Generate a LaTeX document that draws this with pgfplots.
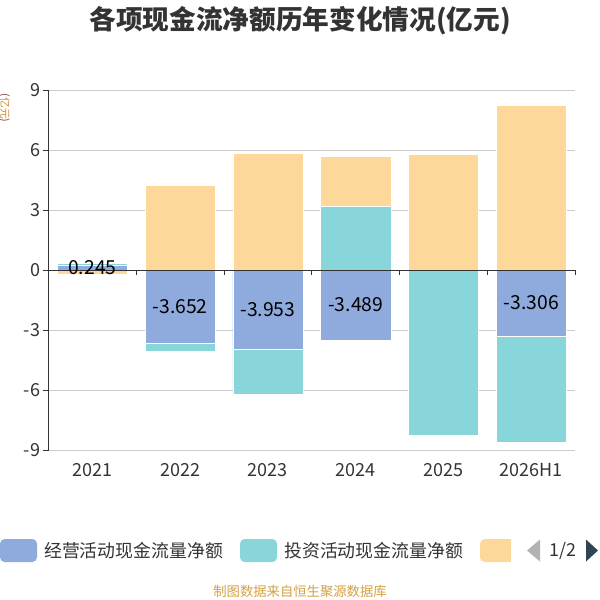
\documentclass[border=0pt]{standalone}
\usepackage{fontspec}
\setmainfont{Noto Sans CJK SC}
\usepackage{pgfplots}
\pgfplotsset{compat=1.18}
\definecolor{cblue}{HTML}{8FAADC}
\definecolor{ccyan}{HTML}{88D6DA}
\definecolor{corange}{HTML}{FED89A}
\definecolor{txt}{HTML}{333333}
\definecolor{gridc}{HTML}{CCCCCC}
\definecolor{foot}{HTML}{D4A044}
\definecolor{ylabd}{HTML}{8B3A3A}
\definecolor{ylabo}{HTML}{D08A2A}
\definecolor{navy}{HTML}{2F4554}
\begin{document}
\begin{tikzpicture}[x=0.75pt,y=-0.75pt]
\path[use as bounding box] (0,0) rectangle (600,600);
\begin{axis}[
  at={(36.375pt,-337.5pt)}, anchor=south west, scale only axis,
  width=395pt, height=270pt,
  xmin=-0.5, xmax=5.5, ymin=-9, ymax=9,
  axis lines=left, axis line style={-},
  x axis line style={draw=none},
  y axis line style={draw=txt, line width=0.75pt},
  ytick={-9,-6,-3,0,3,6,9},
  xtick={0,1,2,3,4,5},
  xticklabels={2021,2022,2023,2024,2025,2026H1},
  xtick style={draw=none},
  ytick style={draw=txt, line width=0.75pt},
  tick align=outside, major tick length=4.5pt,
  ymajorgrids, grid style={gridc, line width=0.75pt},
  /pgf/number format/assume math mode=true,
  yticklabel style={font=\fontsize{13.5}{14}\selectfont, text=txt, inner sep=1.5pt},
  xticklabel style={font=\fontsize{13.5}{14}\selectfont, text=txt, yshift=-2pt},
  clip=false,
]
\addplot[ybar, bar width=0.8, bar shift=0pt, fill=corange, draw=white, line width=0.3pt]
  coordinates {(1,4.25) (2,5.85) (3,5.7) (4,5.8) (5,8.25)};
\addplot[ybar, bar width=0.8, bar shift=0pt, fill=ccyan, draw=white, line width=0.3pt]
  coordinates {(0,0.345) (1,-4.05) (2,-6.22) (3,3.2) (4,-8.25) (5,-8.6)};
\addplot[ybar, bar width=0.8, bar shift=0pt, fill=cblue, draw=white, line width=0.3pt]
  coordinates {(0,0.245) (1,-3.652) (2,-3.953) (3,-3.489) (4,0) (5,-3.306)};
\addplot[draw=none, mark=none, nodes near coords, point meta=explicit symbolic,
  nodes near coords align=center,
  every node near coord/.append style={anchor=center, font=\fontsize{14.5}{15}\selectfont, text=black}]
  coordinates {(0,0.1225)[0.245] (1,-1.826)[-3.652] (2,-1.9765)[-3.953] (3,-1.7445)[-3.489] (5,-1.653)[-3.306]};
\addplot[ybar, bar width=0.8, bar shift=0pt, fill=corange, draw=white, line width=0.3pt]
  coordinates {(0,-0.2)};
\draw[txt, line width=0.75pt] (axis cs:-0.5,0) -- (axis cs:5.5,0);
\pgfplotsinvokeforeach{-0.5,0.5,1.5,2.5,3.5,4.5,5.5}{
  \draw[txt, line width=0.75pt] (axis cs:#1,0) -- ++(0pt,-3.75pt);
}
\end{axis}
% title
\node[font=\fontsize{20}{22}\selectfont\bfseries, text=txt] at (300,21) {各项现金流净额历年变化情况(亿元)};
% y label
\node[rotate=-90, font=\fontsize{8}{9}\selectfont, inner sep=0pt] at (4.5,108)
  {\textcolor{ylabd}{(}\textcolor{ylabo}{亿元}\textcolor{ylabd}{)}};
% legend
\fill[cblue, rounded corners=3.5] (0,539) rectangle (37,562);
\node[anchor=west, inner sep=0pt, text=txt, font=\fontsize{13.4}{14}\selectfont] at (44,550.5) {经营活动现金流量净额};
\fill[ccyan, rounded corners=3.5] (240,539) rectangle (277,562);
\node[anchor=west, inner sep=0pt, text=txt, font=\fontsize{13.4}{14}\selectfont] at (284,550.5) {投资活动现金流量净额};
\begin{scope}
  \clip (0,500) rectangle (511,580);
  \fill[corange, rounded corners=3.5] (480,539) rectangle (517,562);
\end{scope}
\fill[gray!60] (527,550.5) -- (540,539.5) -- (540,561.5) -- cycle;
\node[text=txt, inner sep=0pt, font=\fontsize{13.4}{14}\selectfont] at (562.5,550.5) {1/2};
\fill[navy] (586,539.5) -- (598,550.5) -- (586,561.5) -- cycle;
% footer
\node[text=foot, font=\fontsize{10}{11}\selectfont] at (300,591) {制图数据来自恒生聚源数据库};
\end{tikzpicture}
\end{document}
